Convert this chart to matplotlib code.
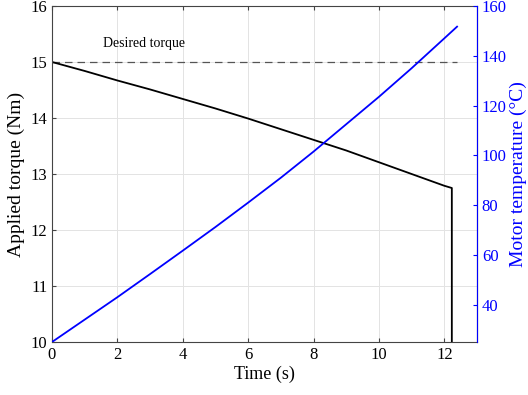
import matplotlib
matplotlib.use("Agg")
from matplotlib import pyplot as plt

plt.rcParams['font.family'] = ['Liberation Serif', 'DejaVu Serif']

# torque
t_torque = [0, 1, 2, 3, 4, 5, 6, 7, 8, 9, 10, 11, 12, 12.23, 12.23]
torque = [15.0, 14.84, 14.67, 14.51, 14.34, 14.17, 13.99, 13.80, 13.61, 13.42, 13.21, 13.00, 12.79, 12.75, 0]

# motor temperature
t_temp = [0, 1, 2, 3, 4, 5, 6, 7, 8, 9, 10, 11, 12, 12.39]
temp = [25, 34, 43, 52.3, 61.7, 71.2, 81, 91, 101.5, 112.5, 123.5, 135, 147, 151.7]

desired = 15
t_desired = [0, 12.39]

fig = plt.figure(figsize=(5.28, 3.95), dpi=100)
ax = fig.add_axes([52/528, 53/395, 425/528, 336/395])

ax.plot(t_desired, [desired, desired], color='#555555', lw=0.9, dashes=(6, 4))
ax.plot(t_torque, torque, color='black', lw=1.3)
ax.text(2.8, 15.33, 'Desired torque', ha='center', va='center', fontsize=10)

ax.set_xlim(0, 13)
ax.set_ylim(10, 16)
ax.set_xticks([0, 2, 4, 6, 8, 10, 12])
ax.set_yticks([10, 11, 12, 13, 14, 15, 16])
ax.grid(True, color='#e3e3e3', lw=0.7)
ax.tick_params(direction='in', length=3, labelsize=12, top=True, right=False, color='#444444')
for s in ['left', 'bottom', 'top']:
    ax.spines[s].set_color('#444444')
ax.set_xlabel('Time (s)', fontsize=13, labelpad=2)
ax.set_ylabel('Applied torque (Nm)', fontsize=14, labelpad=4)

ax2 = ax.twinx()
ax2.plot(t_temp, temp, color='blue', lw=1.3)
ax2.set_ylim(25, 160)
ax2.set_yticks([40, 60, 80, 100, 120, 140, 160])
ax2.tick_params(direction='in', length=3, labelsize=12, colors='blue')
ax2.spines['right'].set_color('blue')
ax2.spines['left'].set_visible(False)
ax2.spines['top'].set_visible(False)
ax2.spines['bottom'].set_visible(False)
ax2.set_ylabel('Motor temperature (°C)', fontsize=14, color='blue', labelpad=2)

fig.savefig('out.png', dpi=100)
